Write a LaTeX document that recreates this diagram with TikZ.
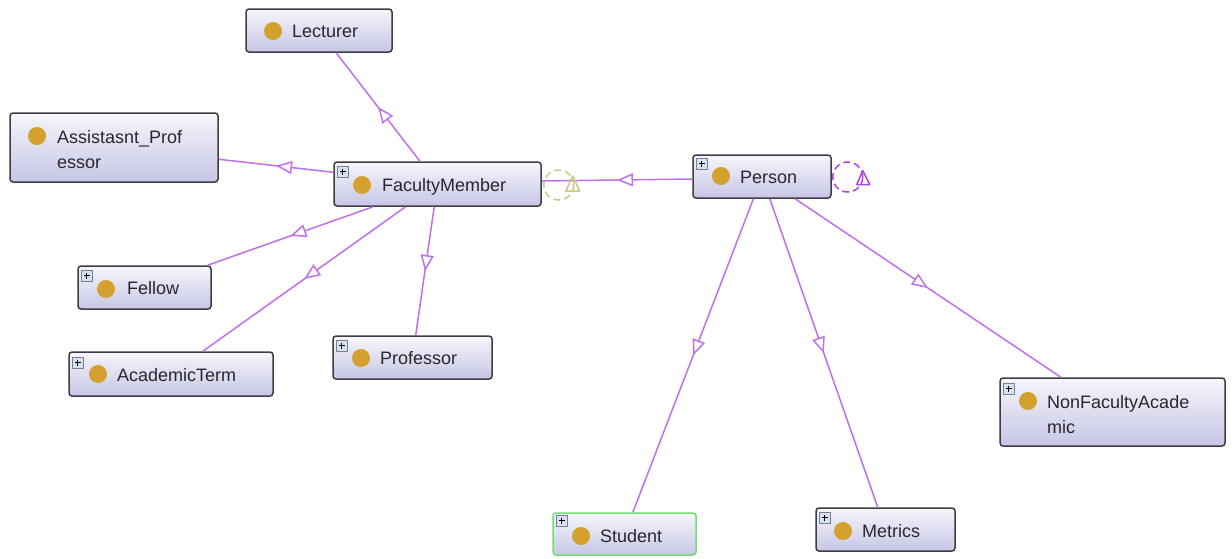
\documentclass[tikz,border=0pt]{standalone}
\usepackage{fontspec}
\setmainfont{Liberation Sans}
\usetikzlibrary{arrows.meta,decorations.markings,calc}

\definecolor{edgec}{RGB}{192,112,234}
\definecolor{boxtop}{RGB}{246,246,251}
\definecolor{boxbot}{RGB}{198,198,230}
\definecolor{boxline}{RGB}{62,62,66}
\definecolor{dotc}{RGB}{212,160,46}
\definecolor{txtc}{RGB}{40,40,44}
\definecolor{loopfm}{RGB}{206,198,132}
\definecolor{loopp}{RGB}{176,66,228}
\definecolor{pboxfill}{RGB}{214,224,240}
\definecolor{pboxline}{RGB}{118,128,150}
\definecolor{greenb}{RGB}{112,222,112}

\tikzset{
  clsbox/.style={rectangle, rounded corners=3pt, draw=boxline, line width=1.5pt,
    top color=boxtop, bottom color=boxbot, inner sep=0pt},
  lbl/.style={anchor=west, inner sep=0pt, text height=12.9pt, text depth=0pt,
    text=txtc, font=\fontsize{18}{20}\selectfont},
  isa/.style={draw=edgec, line width=1.5pt,
    decoration={markings, mark=at position 0.5 with
      {\arrow{Triangle[length=16pt,width=13pt,fill=white]}}},
    postaction={decorate}},
  selfloop/.style={line width=1.5pt, dash pattern=on 7pt off 4pt},
  pbox/.style={fill=pboxfill, draw=pboxline, line width=0.6pt},
}

% small expand box in the top left corner of a class
\newcommand\plusmark[2]{%
  \draw[pbox] (#1,#2) rectangle ++(11,11);
  \draw[line width=1pt, black] (#1+5.5,#2+2.5) -- (#1+5.5,#2+8.5)
    (#1+2.5,#2+5.5) -- (#1+8.5,#2+5.5);
}

\begin{document}
\begin{tikzpicture}[x=1pt,y=-1pt]
\useasboundingbox[fill=white] (0,0) rectangle (1232,558);

% class boxes
\node[clsbox, minimum width=146pt, minimum height=43pt] (lect)    at (319,30.5)   {};
\node[clsbox, minimum width=208pt, minimum height=69pt] (asst)    at (114,147.5)  {};
\node[clsbox, minimum width=207pt, minimum height=44pt] (fm)      at (437.5,184)  {};
\node[clsbox, minimum width=138pt, minimum height=43pt] (person)  at (762,176.5)  {};
\node[clsbox, minimum width=133pt, minimum height=43pt] (fellow)  at (144.5,287.5){};
\node[clsbox, minimum width=204pt, minimum height=44pt] (acad)    at (171,374)    {};
\node[clsbox, minimum width=159pt, minimum height=43pt] (prof)    at (412.5,357.5){};
\node[clsbox, minimum width=225pt, minimum height=68pt] (nonfac)  at (1112.5,412) {};
\node[clsbox, minimum width=143pt, minimum height=42pt, draw=greenb] (student) at (624.5,534) {};
\node[clsbox, minimum width=139pt, minimum height=43pt] (metrics) at (885.5,529.5){};

% subclass links
\draw[isa] (fm) -- (lect);
\draw[isa] (fm) -- (asst);
\draw[isa] (fm) -- (fellow);
\draw[isa] (fm) -- (acad);
\draw[isa] (fm) -- (prof);
\draw[isa] ($(person.west)+(0,2.5)$) -- ($(fm.east)+(0,-3)$);
\draw[isa] (person) -- (student);
\draw[isa] (person) -- (metrics);
\draw[isa] (person) -- (nonfac);

% self loops
\draw[selfloop, draw=loopfm] ($(fm.east)+(17,1)$) circle (15);
\draw[draw=loopfm, line width=1.5pt, line join=round]
  ($(fm.east)+(31,-8)$) -- ($(fm.east)+(38,7)$) -- ($(fm.east)+(24,7)$) -- cycle;
\draw[selfloop, draw=loopp] ($(person.east)+(16,0.5)$) circle (15);
\draw[draw=loopp, line width=1.5pt, line join=round]
  ($(person.east)+(31,-6)$) -- ($(person.east)+(38,8)$) -- ($(person.east)+(25,8)$) -- cycle;

% class dots
\fill[dotc] (273,31)   circle (9);
\fill[dotc] (37,136)   circle (9);
\fill[dotc] (362,185)  circle (9);
\fill[dotc] (721,176)  circle (9);
\fill[dotc] (106,289)  circle (9);
\fill[dotc] (98,374)   circle (9);
\fill[dotc] (361,358)  circle (9);
\fill[dotc] (1028,401) circle (9);
\fill[dotc] (581,536)  circle (9);
\fill[dotc] (843,531)  circle (9);

% expand markers
\plusmark{337}{166}
\plusmark{696}{158}
\plusmark{81}{270}
\plusmark{72}{357}
\plusmark{336}{340}
\plusmark{1003}{383}
\plusmark{556}{515}
\plusmark{819}{512}

% labels
\node[lbl] (lect-t)    at (292,31)   {Lecturer};
\node[lbl] (asst-t1)   at (57,137)   {Assistasnt\_Prof};
\node[lbl] (asst-t2)   at (57,162)   {essor};
\node[lbl] (fm-t)      at (382,185)  {FacultyMember};
\node[lbl] (person-t)  at (740,177)  {Person};
\node[lbl] (fellow-t)  at (127,288)  {Fellow};
\node[lbl] (acad-t)    at (117,375)  {AcademicTerm};
\node[lbl] (prof-t)    at (380,358)  {Professor};
\node[lbl] (nonfac-t1) at (1047,402) {NonFacultyAcade};
\node[lbl] (nonfac-t2) at (1047,427) {mic};
\node[lbl] (student-t) at (600,536)  {Student};
\node[lbl] (metrics-t) at (862,531)  {Metrics};
\end{tikzpicture}
\end{document}
